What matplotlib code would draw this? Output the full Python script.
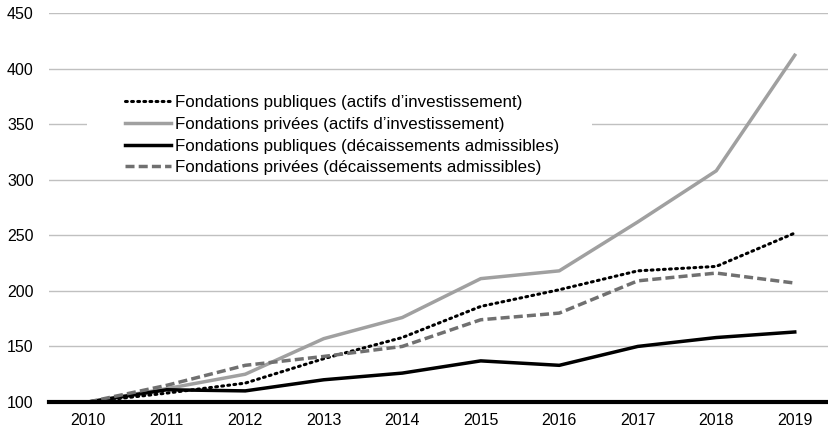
import matplotlib.pyplot as plt
from matplotlib.patches import Rectangle

plt.rcParams['font.family'] = ['Liberation Sans', 'DejaVu Sans']
plt.rcParams['font.size'] = 11.5

years = [2010, 2011, 2012, 2013, 2014, 2015, 2016, 2017, 2018, 2019]
pub_actifs = [100, 108, 117, 139, 158, 186, 201, 218, 222, 252]
priv_actifs = [100, 112, 125, 157, 176, 211, 218, 262, 308, 412]
pub_decaiss = [100, 111, 110, 120, 126, 137, 133, 150, 158, 163]
priv_decaiss = [100, 115, 133, 141, 150, 174, 180, 209, 216, 207]

labels = ["Fondations publiques (actifs d\u2019investissement)",
          "Fondations privées (actifs d\u2019investissement)",
          "Fondations publiques (décaissements admissibles)",
          "Fondations privées (décaissements admissibles)"]

W, H = 829, 434
fig = plt.figure(figsize=(W / 100, H / 100), dpi=100)
ax = fig.add_axes([49 / W, 1 - 402 / H, 785 / W, (402 - 13) / H])

ax.plot(years, pub_actifs, color='black', lw=2.2, linestyle=(0, (0.6, 1.4)),
        dash_capstyle='round', label=labels[0], zorder=3)
ax.plot(years, priv_actifs, color='#a0a0a0', lw=2.5, label=labels[1], zorder=3)
ax.plot(years, pub_decaiss, color='black', lw=2.5, label=labels[2], zorder=3)
ax.plot(years, priv_decaiss, color='#707070', lw=2.5, linestyle=(0, (2.6, 1.2)),
        label=labels[3], zorder=3)

ax.set_xlim(2009.5, 2019.5)
ax.set_ylim(100, 450)
ax.set_yticks(range(100, 451, 50))
ax.set_xticks(years)
ax.grid(axis='y', color='#c0c0c0', lw=1)
ax.set_axisbelow(True)
for s in ['top', 'right', 'left']:
    ax.spines[s].set_visible(False)
ax.spines['bottom'].set_linewidth(3)
ax.spines['bottom'].set_zorder(5)
ax.tick_params(length=0)
ax.tick_params(axis='x', pad=8)
ax.tick_params(axis='y', pad=11)

# white block behind the legend that hides the gridline
ax.add_patch(Rectangle((87 / W, 1 - 176 / H), 505 / W, 84 / H,
                       transform=fig.transFigure, facecolor='white',
                       edgecolor='none', zorder=1, clip_on=False))

ax.legend(loc='upper left', bbox_to_anchor=(125 / W, 1 - 95 / H),
          bbox_transform=fig.transFigure, frameon=False, fontsize=12.2,
          handlelength=2.7, handletextpad=0.25, labelspacing=0.4,
          borderpad=0, borderaxespad=0)

fig.savefig('out.png', dpi=100)
